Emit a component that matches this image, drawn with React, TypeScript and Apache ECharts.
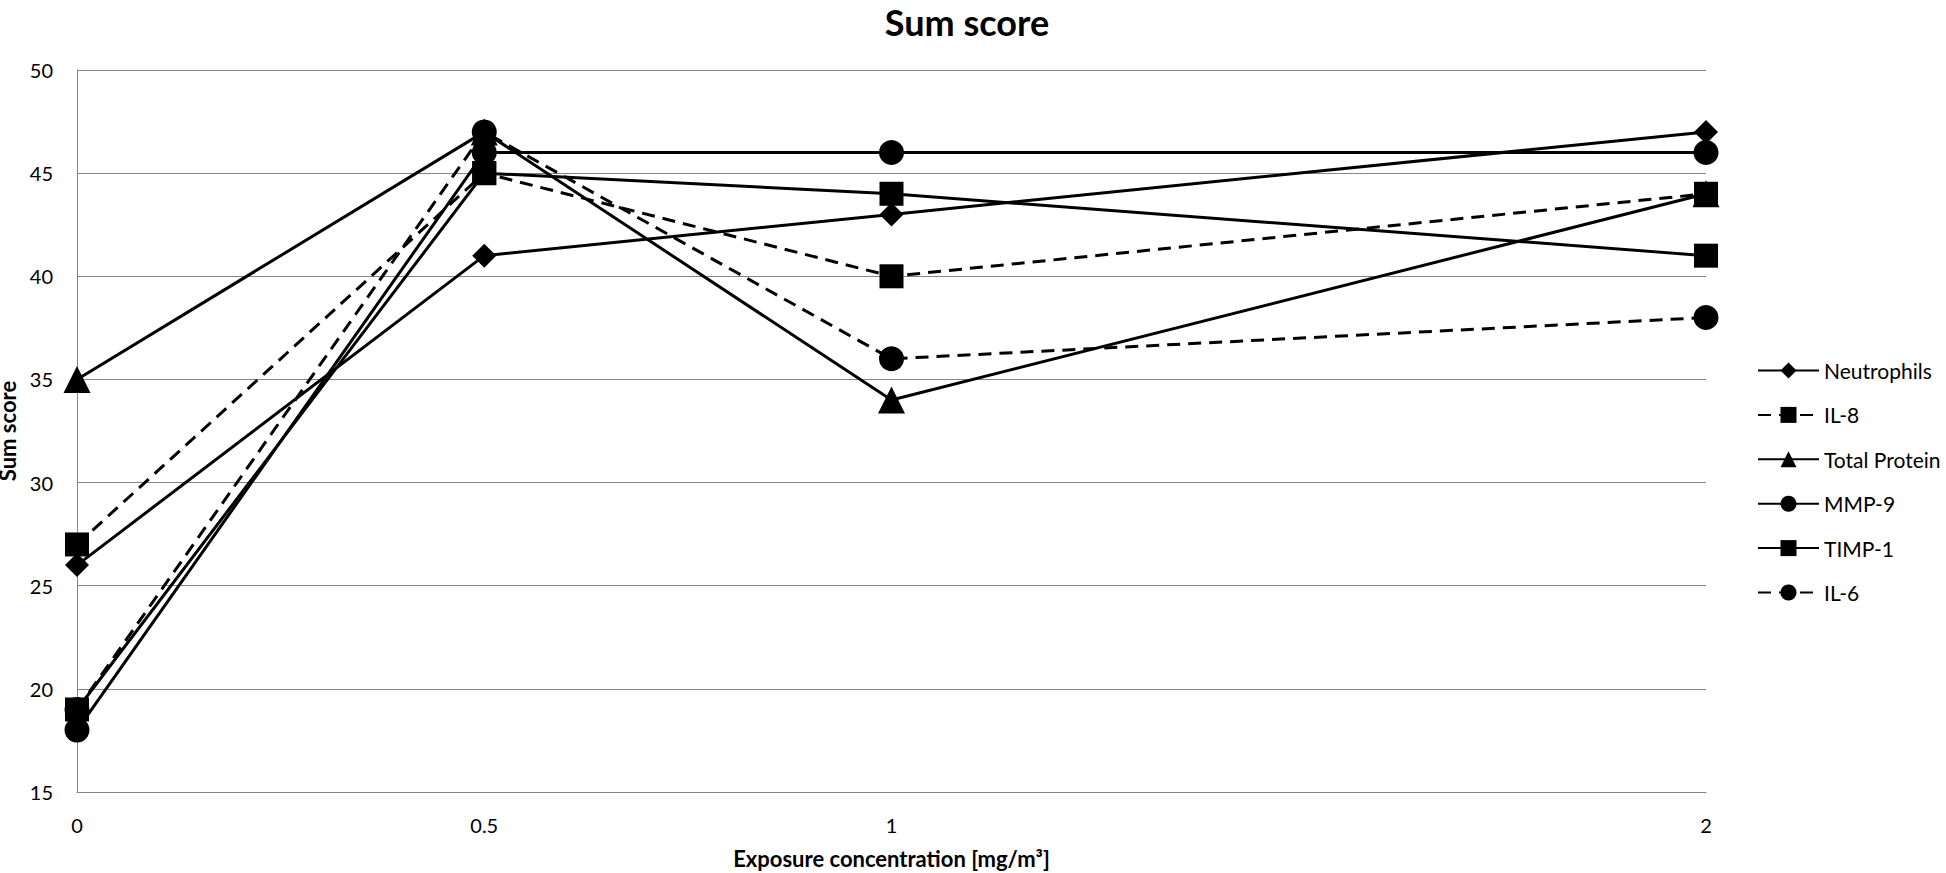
import React, { useEffect, useRef } from "react";
import * as echarts from "echarts";

const concentrations = [0, 0.5, 1, 2];
const xTickLabels = ["0", "0.5", "1", "", "2"];
const neutrophils = [26, 41, 43, 47];
const il8 = [27, 45, 40, 44];
const totalProtein = [35, 47, 34, 44];
const mmp9 = [18, 46, 46, 46];
const timp1 = [19, 45, 44, 41];
const il6 = [19, 47, 36, 38];

const FONT = "Lato, 'Open Sans', sans-serif";

type S = { name: string; values: number[]; symbol: string; size: number; dashed: boolean };
const seriesDefs: S[] = [
  { name: "Neutrophils", values: neutrophils, symbol: "diamond", size: 24, dashed: false },
  { name: "IL-8", values: il8, symbol: "rect", size: 24, dashed: true },
  { name: "Total Protein", values: totalProtein, symbol: "triangle", size: 27, dashed: false },
  { name: "MMP-9", values: mmp9, symbol: "circle", size: 25, dashed: false },
  { name: "TIMP-1", values: timp1, symbol: "rect", size: 24, dashed: false },
  { name: "IL-6", values: il6, symbol: "circle", size: 25, dashed: true },
];

export default function App() {
  const ref = useRef<HTMLDivElement>(null);
  useEffect(() => {
    if (!ref.current) return;
    const chart = echarts.init(ref.current, null, { renderer: "svg" });
    chart.setOption({
      animation: false,
      backgroundColor: "#ffffff",
      title: {
        text: "Sum score",
        left: 967,
        top: 4,
        padding: 0,
        textAlign: "center",
        textStyle: { fontFamily: FONT, fontSize: 36, lineHeight: 36, fontWeight: "bold", color: "#000" },
      },
      legend: {
        orient: "vertical",
        left: 1752,
        top: 355,
        itemWidth: 61,
        itemHeight: 20,
        itemGap: 23.4,
        textStyle: { fontFamily: FONT, fontSize: 21, color: "#000" },
        data: seriesDefs.map((s) => s.name),
      },
      grid: { left: 77, right: 240, top: 70, bottom: 81, outerBoundsMode: "none", containLabel: false },
      xAxis: {
        type: "value",
        min: 0,
        max: 2,
        interval: 0.5,
        name: "Exposure concentration [mg/m³]",
        nameLocation: "middle",
        nameGap: 55,
        nameTextStyle: { fontFamily: FONT, fontSize: 22, fontWeight: "bold", color: "#000" },
        axisLine: { show: true, lineStyle: { color: "#868686", width: 1 } },
        axisTick: { show: false },
        splitLine: { show: false },
        axisLabel: {
          margin: 23,
          fontFamily: FONT,
          fontSize: 20,
          color: "#000",
          formatter: (v: number) => xTickLabels[Math.round(v / 0.5)] ?? "",
        },
      },
      yAxis: {
        type: "value",
        min: 15,
        max: 50,
        interval: 5,
        name: "Sum score",
        nameLocation: "middle",
        nameRotate: 90,
        nameGap: 46,
        nameTextStyle: { fontFamily: FONT, fontSize: 22, fontWeight: "bold", color: "#000" },
        axisLine: { show: true, lineStyle: { color: "#868686", width: 1 } },
        axisTick: { show: false },
        splitLine: { show: true, lineStyle: { color: "#868686", width: 1 } },
        axisLabel: { margin: 24, fontFamily: FONT, fontSize: 20, color: "#000" },
      },
      series: seriesDefs.map((s) => ({
        name: s.name,
        type: "line",
        data: concentrations.map((c, i) => [c, s.values[i]]),
        symbol: s.symbol,
        symbolSize: s.size,
        showAllSymbol: true,
        lineStyle: { color: "#000", width: 3, type: s.dashed ? [13, 8] : "solid" },
        itemStyle: { color: "#000" },
        emphasis: { disabled: true },
      })),
    });
    return () => chart.dispose();
  }, []);
  return (
    <div
      ref={ref}
      style={{ position: "fixed", left: 0, top: 0, width: 1946, height: 873, background: "#fff" }}
    />
  );
}
